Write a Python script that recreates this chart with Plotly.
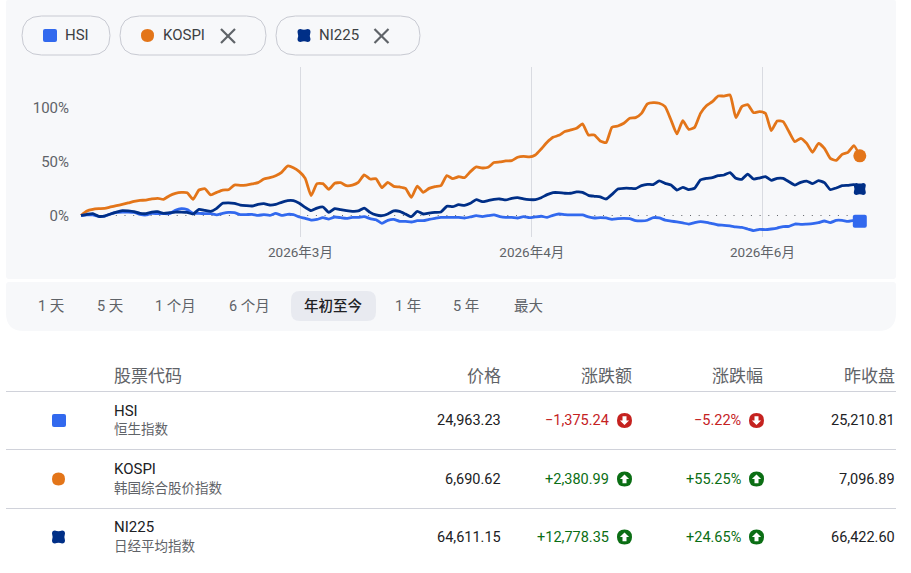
import plotly.graph_objects as go

W, H = 911, 573

# percent change since start of year, one value per session
kospi = [0, 4.2, 5.7, 6.3, 6.6, 7.9, 9.1, 10.3, 11.6, 13.1, 14.0, 14.3, 15.3, 15.9, 15.0, 18.4, 20.5, 21.4, 21.1, 15.0,
         23.6, 24.8, 19.0, 21.4, 23.6, 23.9, 28.2, 27.9, 28.2, 29.2, 30.4, 33.8, 35.0, 36.9, 40.0, 45.8, 44.3, 40.6, 34.4, 18.4,
         29.5, 29.5, 24.2, 29.8, 30.4, 27.6, 28.2, 30.7, 37.5, 33.8, 34.1, 25.8, 30.7, 27.0, 26.4, 25.1, 16.8, 27.3, 21.4, 25.1,
         26.7, 27.6, 36.9, 34.1, 35.9, 35.0, 40.6, 45.0, 44.0, 44.6, 49.0, 49.6, 50.5, 50.8, 53.9, 54.8, 54.2, 56.0, 61.6, 67.8,
         72.4, 74.2, 77.7, 79.2, 80.7, 84.8, 74.6, 74.6, 69.0, 67.5, 81.7, 82.9, 85.4, 90.0, 90.6, 94.6, 103.3, 104.5, 103.9, 100.8,
         88.4, 75.5, 87.8, 79.8, 81.6, 94.6, 101.7, 105.4, 110.6, 110.6, 111.6, 90.6, 100.8, 102.6, 95.2, 96.1, 94.6, 78.6, 87.5, 86.9,
         77.6, 68.4, 71.5, 66.8, 58.5, 66.8, 62.2, 52.9, 51.0, 56.6, 58.5, 64.7, 55.25]
ni225 = [0, 1.1, 1.7, -0.8, -0.5, 1.4, 3.2, 4.5, 4.2, 3.5, 2.0, 1.7, 3.2, 3.5, 2.0, 2.6, 3.2, 3.2, 2.9, 1.4,
         5.7, 4.8, 3.9, 6.6, 11.3, 11.6, 11.3, 9.7, 9.1, 8.8, 10.3, 11.0, 9.7, 10.3, 12.2, 13.7, 13.7, 11.3, 7.5, 4.5,
         6.9, 7.9, 2.9, 6.3, 5.4, 4.5, 3.9, 4.2, 6.9, 2.9, 0.5, -0.2, 1.4, 4.2, 3.9, 1.4, -1.1, 3.9, 1.4, 2.3,
         2.9, 3.2, 8.5, 8.2, 10.0, 9.4, 11.3, 14.7, 12.8, 13.8, 15.0, 15.3, 14.4, 15.9, 16.5, 15.3, 14.7, 14.7, 16.5, 19.3,
         21.2, 21.2, 20.6, 20.6, 21.8, 21.5, 18.7, 17.8, 17.2, 15.3, 19.6, 24.6, 25.2, 25.2, 24.9, 27.7, 28.9, 28.6, 32.0, 29.8,
         28.2, 23.6, 26.1, 23.9, 25.2, 32.9, 34.4, 35.0, 36.9, 37.5, 39.7, 34.4, 33.5, 38.4, 33.8, 34.7, 36.0, 32.6, 34.4, 34.4,
         31.3, 28.2, 30.7, 31.9, 29.5, 32.3, 30.4, 23.9, 25.5, 27.6, 27.9, 28.5, 24.65]
hsi = [0, 0.5, 0.5, -0.8, -0.5, 1.4, 2.9, 3.2, 3.2, 2.9, 1.1, 0.5, 2.0, 1.7, 1.7, 1.7, 4.8, 6.3, 5.4, 2.0,
       2.0, 1.7, 1.7, 0.5, 2.0, 2.9, 2.6, 0.8, 0.8, 1.1, 0.1, 0.8, 0.1, 2.0, 0.1, 1.1, 0.8, -1.4, -2.6, -4.2,
       -3.6, -2.0, -3.3, -1.4, -2.0, -2.6, -1.7, -1.7, -1.1, -2.9, -3.9, -7.3, -4.5, -3.6, -5.4, -5.4, -6.0, -4.8, -4.8, -3.6,
       -2.6, -1.7, -1.7, -1.7, -1.7, -2.3, -1.3, -0.1, -1.0, -0.1, 0.5, -1.0, -1.7, -1.7, -2.3, -1.0, -2.0, -1.3, -0.7, -1.7,
       0.2, 1.4, 0.8, 0.5, 0.5, 0.5, -1.3, -2.3, -2.0, -2.3, -3.5, -2.9, -2.6, -2.9, -4.7, -5.0, -4.4, -2.0, -2.3, -4.2,
       -5.1, -6.0, -6.9, -7.9, -6.6, -5.7, -6.3, -7.5, -8.8, -9.1, -9.7, -10.6, -11.0, -12.5, -14.0, -12.8, -13.1, -12.5, -11.6, -10.3,
       -10.0, -7.9, -8.2, -7.9, -7.5, -6.6, -5.1, -6.6, -4.5, -4.5, -5.4, -4.5, -5.22]
sessions = list(range(len(kospi)))

month_ticks = [37.2, 76.4, 115.5]
month_labels = ["2026年3月", "2026年4月", "2026年6月"]
pct_ticks = [0, 50, 100]
pct_labels = ["0%", "50%", "100%"]

ranges = ["1 天", "5 天", "1 个月", "6 个月", "年初至今", "1 年", "5 年", "最大"]
columns = ["价格", "涨跌额", "涨跌幅", "昨收盘"]
symbols = ["HSI", "KOSPI", "NI225"]
names = ["恒生指数", "韩国综合股价指数", "日经平均指数"]
prices = ["24,963.23", "6,690.62", "64,611.15"]
changes = ["−1,375.24", "+2,380.99", "+12,778.35"]
percents = ["−5.22%", "+55.25%", "+24.65%"]
prev_close = ["25,210.81", "7,096.89", "66,422.60"]

BLUE, ORANGE, NAVY = "#3269ee", "#e37519", "#002f87"
RED, GREEN = "#c5221f", "#0b6e14"
GREY, DARK = "#5f6368", "#202124"
PANEL, RULE = "#f7f8fa", "#d0d2da"
FONT = "Roboto, Noto Sans CJK SC, sans-serif"


def X(v):
    return v / W


def Y(v):
    return 1 - v / H


def same(v):
    return v


def rrect(x0, y0, x1, y1, tl, tr=None, br=None, bl=None, fx=X, fy=Y):
    # rounded rectangle path, page pixels converted to paper units
    tr = tl if tr is None else tr
    br = tl if br is None else br
    bl = tl if bl is None else bl
    return (f"M{fx(x0 + tl)},{fy(y0)} L{fx(x1 - tr)},{fy(y0)} Q{fx(x1)},{fy(y0)} {fx(x1)},{fy(y0 + tr)} "
            f"L{fx(x1)},{fy(y1 - br)} Q{fx(x1)},{fy(y1)} {fx(x1 - br)},{fy(y1)} "
            f"L{fx(x0 + bl)},{fy(y1)} Q{fx(x0)},{fy(y1)} {fx(x0)},{fy(y1 - bl)} "
            f"L{fx(x0)},{fy(y0 + tl)} Q{fx(x0)},{fy(y0)} {fx(x0 + tl)},{fy(y0)} Z")


def clover(cx, cy, r, fx=X, fy=Y):
    # square with rounded corners and a small notch in the middle of each side
    n = r * 0.8
    c = r * 0.55
    return (f"M{fx(cx - c)},{fy(cy - r)} Q{fx(cx)},{fy(cy - n)} {fx(cx + c)},{fy(cy - r)} "
            f"Q{fx(cx + r)},{fy(cy - r)} {fx(cx + r)},{fy(cy - c)} Q{fx(cx + n)},{fy(cy)} {fx(cx + r)},{fy(cy + c)} "
            f"Q{fx(cx + r)},{fy(cy + r)} {fx(cx + c)},{fy(cy + r)} Q{fx(cx)},{fy(cy + n)} {fx(cx - c)},{fy(cy + r)} "
            f"Q{fx(cx - r)},{fy(cy + r)} {fx(cx - r)},{fy(cy + c)} Q{fx(cx - n)},{fy(cy)} {fx(cx - r)},{fy(cy - c)} "
            f"Q{fx(cx - r)},{fy(cy - r)} {fx(cx - c)},{fy(cy - r)} Z")


def arrow(cx, cy, up):
    s = -1 if up else 1
    pts = [(0, 4.6), (4.6, 0), (2, 0), (2, -4.2), (-2, -4.2), (-2, 0), (-4.6, 0)]
    body = " L".join(f"{X(cx + a)},{Y(cy + s * b)}" for a, b in pts)
    return "M" + body + " Z"


shapes = []
notes = []


def fill(path, color):
    shapes.append(dict(type="path", xref="paper", yref="paper", path=path, fillcolor=color, line_width=0, layer="below"))


def rule(x0, y0, x1, y1, color, width=1):
    shapes.append(dict(type="line", xref="paper", yref="paper", x0=X(x0), y0=Y(y0), x1=X(x1), y1=Y(y1),
                       line=dict(color=color, width=width), layer="below"))


def text(x, y, s, size=14, color=GREY, anchor="left", weight=None):
    notes.append(dict(xref="paper", yref="paper", x=X(x), y=Y(y), text=s, showarrow=False, xanchor=anchor, yanchor="middle",
                      borderpad=0, font=dict(family=FONT, size=size, color=color, weight=weight)))


def glyph(i, cx, cy):
    if i == 0:
        fill(rrect(cx - 7, cy - 6.5, cx + 7, cy + 6.5, 2), BLUE)
    elif i == 1:
        fill(rrect(cx - 6.5, cy - 6.5, cx + 6.5, cy + 6.5, 6.5), ORANGE)
    else:
        fill(clover(cx, cy, 6.5), NAVY)


# panels behind the chart and the range selector
fill(rrect(6, 0, 896, 279, 2, 2, 3, 3), PANEL)
fill(rrect(6, 282, 896, 331, 3, 3, 18, 18), PANEL)

# chips
chips = [(22, 110, 50, 64), (120, 266, 147.5, 161.5), (276, 420, 304, 317.5)]
for i, (x0, x1, gx, tx) in enumerate(chips):
    shapes.append(dict(type="path", xref="paper", yref="paper", path=rrect(x0, 16, x1, 55, 19.5),
                       fillcolor="rgba(0,0,0,0)", line=dict(color="#c8cad2", width=1), layer="below"))
    glyph(i, gx, 35.5)
    text(tx, 35.5, symbols[i], 15, "#3c4043")
for cx in [228, 381.5]:
    rule(cx - 7, 29, cx + 7, 43, GREY, 2.2)
    rule(cx - 7, 43, cx + 7, 29, GREY, 2.2)

# range selector
fill(rrect(291, 291, 376, 321, 9), "#e8eaf0")
range_x = [51, 109.5, 175, 249, 333.5, 408, 466, 528]
for lab, x in zip(ranges, range_x):
    if lab == "年初至今":
        text(x, 306, lab, 14.5, DARK, "center", 500)
    else:
        text(x, 306, lab, 14.5, GREY, "center")

# table
text(112.5, 375.5, "股票代码", 17)
for lab, x in zip(columns, [502, 633, 764, 896]):
    text(x, 375.5, lab, 17, GREY, "right")
for y in [391.5, 449.5, 508.5]:
    rule(6, y, 896, y, RULE)
for i, y in enumerate([420.5, 479, 537]):
    color = RED if i == 0 else GREEN
    glyph(i, 59 if i == 0 else 58.5, y)
    text(112.5, y - 10, symbols[i], 15, DARK)
    text(112.5, y + 9, names[i], 13.5)
    text(502, y, prices[i], 14.5, DARK, "right")
    text(610, y, changes[i], 14.5, color, "right")
    text(742, y, percents[i], 14.5, color, "right")
    text(896, y, prev_close[i], 14.5, DARK, "right")
    for cx in [624.5, 756.5]:
        fill(rrect(cx - 7.5, y - 7.5, cx + 7.5, y + 7.5, 7.5), color)
        fill(arrow(cx, y, i != 0), "white")

fig = go.Figure()

for values, color in [(kospi, ORANGE), (hsi, BLUE), (ni225, NAVY)]:
    fig.add_trace(go.Scatter(x=sessions, y=values, mode="lines", hoverinfo="skip",
                             line=dict(color=color, width=2.8, shape="spline", smoothing=0.5)))

# end points, same colours as the lines
fig.add_trace(go.Scatter(x=sessions[-1:], y=kospi[-1:], mode="markers", hoverinfo="skip",
                         marker=dict(color=ORANGE, size=13, symbol="circle", line_width=0)))
for values, color, path in [
    (hsi, BLUE, rrect(-7, -6.5, 7, 6.5, 2, fx=same, fy=same)),
    (ni225, NAVY, clover(0, 0, 6, fx=same, fy=same)),
]:
    shapes.append(dict(type="path", xref="x", yref="y", xsizemode="pixel", ysizemode="pixel",
                       xanchor=sessions[-1], yanchor=values[-1], path=path, fillcolor=color, line_width=0))

# dotted zero line
shapes.append(dict(type="line", xref="x", yref="y", x0=sessions[0], x1=sessions[-1], y0=0, y1=0,
                   line=dict(color="#5f6368", width=1, dash="1px,7.7px"), layer="below"))

# pixels per session and per percent, axis box spans 76-870 by 67-237
fig.update_layout(
    width=W,
    height=H,
    margin=dict(l=0, r=0, t=0, b=0),
    paper_bgcolor="white",
    plot_bgcolor="rgba(0,0,0,0)",
    showlegend=False,
    font=dict(family=FONT),
    shapes=shapes,
    annotations=notes,
    xaxis=dict(
        domain=[X(76), X(870)],
        range=[-5 / 5.9, 789 / 5.9],
        tickvals=month_ticks,
        ticktext=month_labels,
        showgrid=True,
        gridcolor="#d9dbe1",
        gridwidth=1,
        zeroline=False,
        showline=False,
        ticks="",
        ticklabelstandoff=5,
        tickfont=dict(size=13.5, color=GREY),
        automargin=False,
    ),
    yaxis=dict(
        domain=[Y(237), Y(67)],
        range=[-21.5 / 1.08, 148.5 / 1.08],
        tickvals=pct_ticks,
        ticktext=pct_labels,
        showgrid=False,
        zeroline=False,
        showline=False,
        ticks="",
        ticklabelstandoff=6,
        tickfont=dict(size=15, color=GREY),
        automargin=False,
    ),
)

# the default page margin would push everything 8px down and right
fig.write_html("out.html", config=dict(displayModeBar=False), post_script="document.body.style.margin='0';")
